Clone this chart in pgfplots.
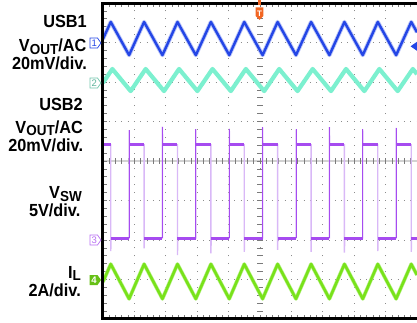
\documentclass[border=0pt]{standalone}
\usepackage{pgfplots}
\pgfplotsset{compat=1.18}
\usepackage{fontspec}
\setmainfont{Liberation Sans}
\newfontfamily\labfont[FakeStretch=0.93]{Liberation Sans}
\definecolor{cA}{HTML}{2446E6}
\definecolor{cB}{HTML}{7CF0CF}
\definecolor{cC}{HTML}{A64BF0}
\definecolor{cCl}{HTML}{D9B8F7}
\definecolor{cD}{HTML}{78E21A}
\definecolor{cT}{HTML}{F26522}
\definecolor{gridc}{HTML}{8C8C8C}
\definecolor{tickc}{HTML}{7A7A7A}
\begin{document}
\begin{tikzpicture}
\useasboundingbox (0,0) rectangle (417pt,322pt);
\begin{scope}[x=1pt,y=1pt]
% dotted grid
\foreach \i in {-4,...,4} {
  \draw[gridc, line width=0.9pt, dash pattern=on 0.9pt off 7pt, dash phase=0.45pt] ({260+31.4*\i},3) -- ({260+31.4*\i},319);
}
\foreach \j in {-3,...,3} {
  \draw[gridc, line width=0.9pt, dash pattern=on 0.9pt off 5.38pt, dash phase=0.45pt] (103,{161+39.5*\j}) -- (417,{161+39.5*\j});
}
% centre lines
\draw[gray!35, line width=1.6pt] (103,161) -- (417,161);
\foreach \k in {-25,...,25} {
  \draw[tickc, line width=0.7pt] ({260+6.28*\k},158.3) -- ({260+6.28*\k},163.7);
}
\foreach \k in {-20,...,20} {
  \draw[tickc, line width=0.7pt] (257.3,{161+7.9*\k}) -- (262.7,{161+7.9*\k});
}
% border ticks
\foreach \k in {0,...,40} {
  \draw[tickc, line width=0.7pt] (103,{3+7.9*\k}) -- (107,{3+7.9*\k});
}
\foreach \k in {0,...,50} {
  \draw[tickc, line width=0.7pt] ({103+6.28*\k},319) -- ({103+6.28*\k},315);
  \draw[tickc, line width=0.7pt] ({103+6.28*\k},3) -- ({103+6.28*\k},7);
}
\end{scope}

\begin{axis}[at={(103pt,3pt)}, anchor=south west, scale only axis,
  width=314pt, height=316pt, xmin=-5, xmax=5, ymin=-4, ymax=4,
  axis line style={draw=none}, ticks=none, clip=true,
  unbounded coords=jump]
% CH1 USB1 Vout ripple
\addplot[cA!30, line width=4.2pt, line join=round] coordinates {
(-5,3.09) (-4.753,3.52) (-4.169,2.68) (-3.691,3.52) (-3.107,2.68) (-2.628,3.52) (-2.044,2.68) (-1.563,3.52) (-0.979,2.68) (-0.501,3.52) (0.083,2.68) (0.561,3.52) (1.145,2.68) (1.627,3.52) (2.211,2.68) (2.689,3.52) (3.273,2.68) (3.751,3.52) (4.335,2.68) (4.817,3.52) (5,3.26)};
\addplot[cA, line width=2.4pt, line join=round] coordinates {
(-5,3.09) (-4.753,3.52) (-4.169,2.68) (-3.691,3.52) (-3.107,2.68) (-2.628,3.52) (-2.044,2.68) (-1.563,3.52) (-0.979,2.68) (-0.501,3.52) (0.083,2.68) (0.561,3.52) (1.145,2.68) (1.627,3.52) (2.211,2.68) (2.689,3.52) (3.273,2.68) (3.751,3.52) (4.335,2.68) (4.817,3.52) (5,3.26)};
% CH2 USB2 Vout ripple
\addplot[cB, line width=4.2pt, line join=round] coordinates {
(-5,1.98) (-4.703,2.33) (-4.119,1.77) (-3.641,2.33) (-3.057,1.77) (-2.578,2.33) (-1.994,1.77) (-1.513,2.33) (-0.929,1.77) (-0.451,2.33) (0.133,1.77) (0.611,2.33) (1.195,1.77) (1.677,2.33) (2.261,1.77) (2.739,2.33) (3.323,1.77) (3.801,2.33) (4.385,1.77) (4.867,2.33) (5,2.20)};
% CH3 VSW full trace (light)
\addplot[cCl, line width=1.4pt] coordinates {
(-5,0.41) (-4.753,0.41) (-4.753,-2.28) (-4.745,-1.95) (-4.169,-1.95) (-4.169,0.78) (-4.16,0.41)
(-3.691,0.41) (-3.691,-2.21) (-3.683,-1.95) (-3.107,-1.95) (-3.107,0.87) (-3.099,0.41)
(-2.628,0.41) (-2.628,-2.38) (-2.62,-1.95) (-2.044,-1.95) (-2.044,0.81) (-2.036,0.41)
(-1.563,0.41) (-1.563,-2.34) (-1.555,-1.95) (-0.979,-1.95) (-0.979,0.82) (-0.971,0.41)
(-0.501,0.41) (-0.501,-2.30) (-0.493,-1.95) (0.083,-1.95) (0.083,0.85) (0.091,0.41)
(0.561,0.41) (0.561,-2.25) (0.569,-1.95) (1.145,-1.95) (1.145,0.80) (1.153,0.41)
(1.627,0.41) (1.627,-2.30) (1.635,-1.95) (2.211,-1.95) (2.211,0.86) (2.219,0.41)
(2.689,0.41) (2.689,-2.32) (2.697,-1.95) (3.273,-1.95) (3.273,0.80) (3.281,0.41)
(3.751,0.41) (3.751,-2.28) (3.759,-1.95) (4.335,-1.95) (4.335,0.84) (4.343,0.41)
(4.817,0.41) (4.817,-2.30) (4.825,-1.95) (5,-1.95)};
% CH3 rising edges (dark)
\addplot[cC, line width=0.8pt] coordinates {
(-4.169,-1.95) (-4.169,0.78) (-4.169,nan)
(-3.107,-1.95) (-3.107,0.87) (-3.107,nan)
(-2.044,-1.95) (-2.044,0.81) (-2.044,nan)
(-0.979,-1.95) (-0.979,0.82) (-0.979,nan)
(0.083,-1.95) (0.083,0.85) (0.083,nan)
(1.145,-1.95) (1.145,0.80) (1.145,nan)
(2.211,-1.95) (2.211,0.86) (2.211,nan)
(3.273,-1.95) (3.273,0.80) (3.273,nan)
(4.335,-1.95) (4.335,0.84)};
% CH3 flat levels (dark, thick)
\addplot[cC, line width=3pt] coordinates {
(-5,0.41) (-4.753,0.41) (-4.7,nan)
(-4.169,0.41) (-3.691,0.41) (-3.6,nan)
(-3.107,0.41) (-2.628,0.41) (-2.6,nan)
(-2.044,0.41) (-1.563,0.41) (-1.5,nan)
(-0.979,0.41) (-0.501,0.41) (-0.5,nan)
(0.083,0.41) (0.561,0.41) (0.6,nan)
(1.145,0.41) (1.627,0.41) (1.7,nan)
(2.211,0.41) (2.689,0.41) (2.7,nan)
(3.273,0.41) (3.751,0.41) (3.8,nan)
(4.335,0.41) (4.817,0.41) (4.9,nan)
(-4.753,-1.95) (-4.169,-1.95) (-4.1,nan)
(-3.691,-1.95) (-3.107,-1.95) (-3.1,nan)
(-2.628,-1.95) (-2.044,-1.95) (-2.0,nan)
(-1.563,-1.95) (-0.979,-1.95) (-0.9,nan)
(-0.501,-1.95) (0.083,-1.95) (0.1,nan)
(0.561,-1.95) (1.145,-1.95) (1.2,nan)
(1.627,-1.95) (2.211,-1.95) (2.3,nan)
(2.689,-1.95) (3.273,-1.95) (3.3,nan)
(3.751,-1.95) (4.335,-1.95) (4.4,nan)
(4.817,-1.95) (5,-1.95)};
% CH4 inductor current
\addplot[cD!50, line width=3.8pt, line join=round] coordinates {
(-5,-3.06) (-4.753,-2.61) (-4.169,-3.49) (-3.691,-2.61) (-3.107,-3.49) (-2.628,-2.61) (-2.044,-3.49) (-1.563,-2.61) (-0.979,-3.49) (-0.501,-2.61) (0.083,-3.49) (0.561,-2.61) (1.145,-3.49) (1.627,-2.61) (2.211,-3.49) (2.689,-2.61) (3.273,-3.49) (3.751,-2.61) (4.335,-3.49) (4.817,-2.61) (5,-2.885)};
\addplot[cD, line width=2.6pt, line join=round] coordinates {
(-5,-3.06) (-4.753,-2.61) (-4.169,-3.49) (-3.691,-2.61) (-3.107,-3.49) (-2.628,-2.61) (-2.044,-3.49) (-1.563,-2.61) (-0.979,-3.49) (-0.501,-2.61) (0.083,-3.49) (0.561,-2.61) (1.145,-3.49) (1.627,-2.61) (2.211,-3.49) (2.689,-2.61) (3.273,-3.49) (3.751,-2.61) (4.335,-3.49) (4.817,-2.61) (5,-2.885)};
\end{axis}

\begin{scope}[x=1pt,y=1pt]
% screen border
\draw[black, line width=2.8pt] (417,318.6) -- (102.6,318.6) -- (102.6,3.2) -- (417,3.2);
% trigger marker
\fill[cT] (257.6,322) rectangle (261.4,317);
\fill[cT] (255.6,314.5) -- (263.4,314.5) -- (263.4,306) -- (259.5,302) -- (255.6,306) -- cycle;
\node[white, font=\bfseries\fontsize{8}{8}\selectfont, inner sep=0] at (259.5,308.5) {T};
% right ch1 arrow
\fill[cA] (410.5,275.7) -- (417,280.2) -- (417,271.2) -- cycle;
% channel markers
\draw[cA, fill=white, line width=0.7pt] (90,274) -- (97.5,274) -- (101,279) -- (97.5,284) -- (90,284) -- cycle;
\node[cA, font=\fontsize{9.5}{9.5}\selectfont, inner sep=0] at (94.3,279) {1};
\draw[cB!80!black!90, fill=white, line width=0.7pt] (90,234) -- (97.5,234) -- (101,239) -- (97.5,244) -- (90,244) -- cycle;
\node[cB!75!black, font=\fontsize{9.5}{9.5}\selectfont, inner sep=0] at (94.3,239) {2};
\draw[cC!80, fill=white, line width=0.7pt] (90,77) -- (97.5,77) -- (101,82) -- (97.5,87) -- (90,87) -- cycle;
\node[cC!80, font=\fontsize{9.5}{9.5}\selectfont, inner sep=0] at (94.3,82) {3};
\fill[cD!85!black] (89.5,37) -- (97.5,37) -- (101,42) -- (97.5,47) -- (89.5,47) -- cycle;
\node[white, font=\bfseries\fontsize{9.5}{9.5}\selectfont, inner sep=0] at (94,42) {4};
% labels
\tikzset{lab/.style={anchor=base east, inner sep=0, font=\labfont\bfseries\fontsize{17.5}{18}\selectfont}}
\node[lab] at (87,294) {USB1};
\node[lab] at (86.5,270.5) {V\raisebox{-2.5pt}{\fontsize{14.5}{15}\selectfont OUT}/AC};
\node[lab] at (87,252) {20mV/div.};
\node[lab] at (83,212) {USB2};
\node[lab] at (83,189) {V\raisebox{-2.5pt}{\fontsize{14.5}{15}\selectfont OUT}/AC};
\node[lab] at (83.3,171) {20mV/div.};
\node[lab] at (82,123.5) {V\raisebox{-2.5pt}{\fontsize{14.5}{15}\selectfont SW}};
\node[lab] at (80.5,105.5) {5V/div.};
\node[lab] at (81,44) {I\raisebox{-2.5pt}{\fontsize{14.5}{15}\selectfont L}};
\node[lab] at (81,26) {2A/div.};
\end{scope}
\end{tikzpicture}
\end{document}
